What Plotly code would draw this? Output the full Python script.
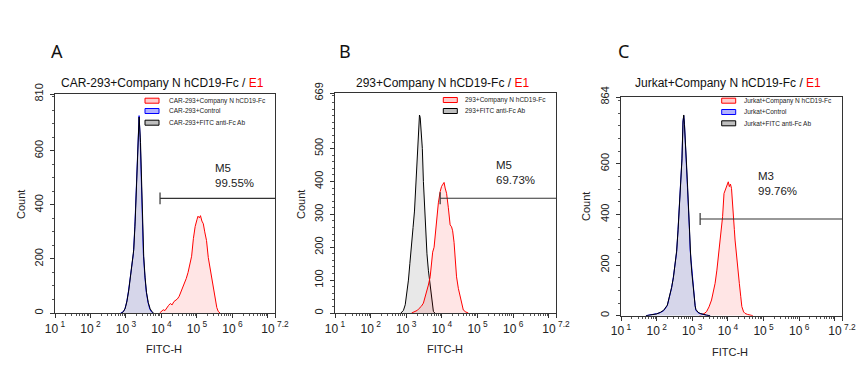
import plotly.graph_objects as go

# page has an 8px body margin: the figure fills the rest of the 866x388 window
PAGE_W, PAGE_H, OFF = 866, 388, 8
W, H = PAGE_W - 2 * OFF, PAGE_H - 2 * OFF

# ---------------- data (log10 FITC-H position, count) ----------------
# Panel A
a_red_log = [3.95, 4.0, 4.05, 4.1, 4.15, 4.2, 4.25, 4.3, 4.35, 4.4, 4.45, 4.5, 4.55, 4.6, 4.65, 4.7, 4.75, 4.8,
             4.85, 4.9, 4.95, 5.0, 5.03, 5.07, 5.1, 5.14, 5.18, 5.22, 5.27, 5.32, 5.37, 5.42, 5.47, 5.51, 5.56, 5.6, 5.65]
a_red_cnt = [0, 6, 12, 9, 20, 28, 35, 30, 42, 47, 52, 62, 78, 92, 110, 128, 150, 178,
             210, 275, 320, 345, 358, 352, 360, 340, 330, 300, 268, 205, 165, 130, 85, 48, 20, 6, 0]
a_blue_log = [2.85, 2.92, 2.97, 3.02, 3.07, 3.12, 3.17, 3.21, 3.25, 3.29, 3.33, 3.37, 3.4, 3.43, 3.46, 3.49,
              3.53, 3.57, 3.62, 3.67, 3.72, 3.76]
a_blue_cnt = [0, 4, 15, 40, 80, 130, 180, 220, 320, 470, 620, 730, 650, 500, 330, 220, 140, 80, 40, 15, 4, 0]
a_black_log = [2.87, 2.93, 2.98, 3.03, 3.08, 3.13, 3.18, 3.22, 3.26, 3.3, 3.34, 3.37, 3.41, 3.44, 3.47, 3.5,
               3.54, 3.58, 3.63, 3.68, 3.73, 3.78]
a_black_cnt = [0, 5, 18, 45, 85, 135, 185, 235, 340, 490, 640, 725, 630, 470, 310, 210, 130, 75, 38, 16, 5, 0]

# Panel B
b_red_log = [3.15, 3.2, 3.26, 3.31, 3.36, 3.42, 3.48, 3.53, 3.57, 3.62, 3.67, 3.71, 3.74, 3.78, 3.81, 3.85, 3.9,
             3.95, 3.99, 4.03, 4.06, 4.09, 4.13, 4.18, 4.23, 4.27, 4.3, 4.34, 4.37, 4.41, 4.46, 4.51, 4.56, 4.6, 4.67, 4.74]
b_red_cnt = [0, 2, 5, 8, 14, 20, 30, 48, 65, 85, 110, 150, 185, 200, 240, 293, 335,
             369, 385, 392, 397, 380, 364, 320, 268, 262, 250, 215, 175, 110, 75, 50, 25, 9, 3, 0]
b_black_log = [2.85, 2.92, 2.97, 3.02, 3.06, 3.1, 3.15, 3.19, 3.23, 3.27, 3.31, 3.34, 3.37, 3.39, 3.42, 3.45,
               3.48, 3.51, 3.55, 3.58, 3.62, 3.65, 3.69, 3.72, 3.76, 3.8]
b_black_cnt = [0, 8, 25, 60, 100, 150, 200, 260, 310, 400, 500, 565, 602, 595, 540, 500,
               400, 330, 250, 180, 130, 100, 55, 25, 5, 0]

# Panel C
c_red_log = [3.2, 3.26, 3.33, 3.4, 3.47, 3.54, 3.59, 3.64, 3.69, 3.73, 3.78, 3.82, 3.85, 3.89, 3.93, 3.97, 4.01,
             4.04, 4.07, 4.1, 4.12, 4.15, 4.18, 4.2, 4.24, 4.28, 4.32, 4.36, 4.39, 4.44, 4.48, 4.55, 4.62, 4.7]
c_red_cnt = [0, 3, 8, 16, 35, 62, 95, 128, 180, 233, 299, 350, 391, 483, 500, 515, 529,
             510, 520, 503, 450, 391, 340, 299, 233, 180, 128, 75, 36, 15, 9, 5, 3, 0]
c_blue_log = [1.7, 1.85, 2.0, 2.1, 2.2, 2.3, 2.37, 2.42, 2.47, 2.52, 2.56, 2.6, 2.64, 2.68, 2.71, 2.74, 2.76,
              2.78, 2.81, 2.84, 2.87, 2.89, 2.92, 2.94, 2.96, 2.99, 3.01, 3.03, 3.05, 3.08, 3.1, 3.16, 3.22, 3.3, 3.4, 3.5]
c_blue_cnt = [0, 3, 8, 12, 20, 40, 75, 110, 154, 200, 250, 340, 431, 530, 620, 770, 790,
              760, 680, 589, 500, 431, 340, 260, 225, 160, 128, 90, 62, 38, 22, 12, 8, 4, 2, 0]
c_black_log = [1.7, 1.85, 2.0, 2.1, 2.2, 2.3, 2.37, 2.42, 2.47, 2.52, 2.56, 2.6, 2.64, 2.68, 2.71, 2.74, 2.76,
               2.78, 2.81, 2.84, 2.87, 2.89, 2.92, 2.94, 2.96, 2.99, 3.01, 3.03, 3.05, 3.08, 3.1, 3.16, 3.22, 3.3, 3.4, 3.5]
c_black_cnt = [0, 2, 7, 13, 22, 42, 78, 112, 150, 205, 255, 335, 425, 525, 615, 765, 793,
               755, 690, 595, 505, 425, 335, 255, 220, 165, 130, 95, 65, 40, 25, 14, 9, 5, 2, 0]

# panel metadata
panel_letters = ["A", "B", "C"]
panel_titles = ["CAR-293+Company N hCD19-Fc", "293+Company N hCD19-Fc", "Jurkat+Company N hCD19-Fc"]
title_suffix = "E1"
y_max = [810, 669, 864]
y_major = [[0, 200, 400, 600, 810], [0, 100, 200, 300, 400, 500, 669], [0, 200, 400, 600, 864]]
y_minor_step = [50, 20, 50]
legend_labels = [
    ["CAR-293+Company N hCD19-Fc", "CAR-293+Control", "CAR-293+FITC anti-Fc Ab"],
    ["293+Company N hCD19-Fc", "293+FITC anti-Fc Ab"],
    ["Jurkat+Company N hCD19-Fc", "Jurkat+Control", "Jurkat+FITC anti-Fc Ab"],
]
x_tick_exp = [1, 2, 3, 4, 5, 6, 7, 7.2]
x_tick_text = ["10<sup> 1</sup>", "10<sup> 2</sup>", "10<sup> 3</sup>", "10<sup> 4</sup>",
               "10<sup> 5</sup>", "10<sup> 6</sup>", "", "10<sup> 7.2</sup>"]
gate_names = ["M5", "M5", "M3"]
gate_pct = ["99.55%", "69.73%", "99.76%"]
gate_start_log = [3.96, 3.95, 3.22]
gate_y = [424, 349, 382]
gate_label_log = [5.45, 5.46, 4.79]
gate_label_y = [507, 427, 524]

# ---------------- layout geometry (window pixels) ----------------
plot_px = [(55, 275, 94, 313), (335, 556, 93, 313), (621, 842, 97, 315.7)]
letter_px = [(56.5, 51), (344.5, 51), (623.5, 51)]
title_px = [(162.5, 83), (443, 83), (728, 83)]
legend_px = [(145, 167, [100.7, 111, 122.7]), (443.3, 463, [100, 111]), (721.7, 742, [100.7, 112, 123.3])]
count_px = [(21, 205), (301, 205), (586, 207)]
fitc_px = [(164, 349), (445, 349), (730, 352)]

FONT = "Liberation Sans, Arial, sans-serif"
RED, BLUE, BLACK = "#ff0000", "#0000ff", "#000000"


def px(x):
    return (x - OFF) / W


def py(y):
    return 1 - (y - OFF) / H


fig = go.Figure()


def to_lin(logs):
    return [10 ** v for v in logs]


series = [
    [  # A
        (a_red_log, a_red_cnt, RED, "rgba(255,0,0,0.10)"),
        (a_blue_log, a_blue_cnt, BLUE, "#d6d6ea"),
        (a_black_log, a_black_cnt, BLACK, None),
    ],
    [  # B
        (b_black_log, b_black_cnt, BLACK, "rgba(150,150,150,0.22)"),
        (b_red_log, b_red_cnt, RED, "rgba(255,0,0,0.10)"),
    ],
    [  # C
        (c_red_log, c_red_cnt, RED, "rgba(255,0,0,0.10)"),
        (c_blue_log, c_blue_cnt, BLUE, "#d6d6ea"),
        (c_black_log, c_black_cnt, BLACK, None),
    ],
]

annotations = []
shapes = []

for i in range(3):
    sfx = "" if i == 0 else str(i + 1)
    xr, yr = "x" + sfx, "y" + sfx
    for logs, cnts, col, fill in series[i]:
        fig.add_trace(go.Scatter(
            x=to_lin(logs), y=cnts, mode="lines", xaxis=xr, yaxis=yr,
            line=dict(color=col, width=1),
            fill="tozeroy" if fill else "none",
            fillcolor=fill if fill else None,
            showlegend=False, hoverinfo="skip"))
    # gate marker
    ym = y_max[i]
    half = 0.027 * ym
    gx0 = 10 ** gate_start_log[i]
    gx1 = 10 ** 7.2
    fig.add_trace(go.Scatter(x=[gx0, gx1], y=[gate_y[i], gate_y[i]], mode="lines", xaxis=xr, yaxis=yr,
                             line=dict(color="#333333", width=1.2), showlegend=False, hoverinfo="skip"))
    fig.add_trace(go.Scatter(x=[gx0, gx0], y=[gate_y[i] - half, gate_y[i] + half], mode="lines",
                             xaxis=xr, yaxis=yr, line=dict(color="#333333", width=1.2),
                             showlegend=False, hoverinfo="skip"))
    annotations.append(dict(x=gate_label_log[i], y=gate_label_y[i], xref=xr, yref=yr,
                            text=gate_names[i] + "<br>" + gate_pct[i], showarrow=False,
                            xanchor="left", yanchor="middle", align="left",
                            font=dict(family=FONT, size=11.5, color="#222")))

    x0, x1, y0, y1 = plot_px[i]
    minor_vals = [m * 10 ** d for d in range(1, 8) for m in range(2, 10) if m * 10 ** d <= 10 ** 7.2]
    fig.update_layout(**{
        "xaxis" + sfx: dict(
            domain=[px(x0), px(x1)], anchor=yr, type="log", range=[1, 7.2],
            tickmode="array", tickvals=[10 ** e for e in x_tick_exp], ticktext=x_tick_text,
            tickangle=0, automargin=False,
            ticks="outside", ticklen=4, tickcolor="#333", tickwidth=1,
            minor=dict(tickmode="array", tickvals=minor_vals, ticks="outside", ticklen=2,
                       tickcolor="#555", tickwidth=1, showgrid=False),
            showline=True, linecolor="#333", linewidth=1.2, mirror=True,
            showgrid=False, zeroline=False,
            tickfont=dict(family=FONT, size=12, color="#222")),
        "yaxis" + sfx: dict(
            domain=[py(y1), py(y0)], anchor=xr, range=[0, ym],
            tickmode="array", tickvals=y_major[i], ticktext=[str(v) for v in y_major[i]],
            tickangle=-90, automargin=False, ticklabelstandoff=3,
            ticks="outside", ticklen=4, tickcolor="#333", tickwidth=1,
            minor=dict(dtick=y_minor_step[i], tick0=0, ticks="outside", ticklen=2,
                       tickcolor="#555", tickwidth=1, showgrid=False),
            showline=True, linecolor="#333", linewidth=1.2, mirror=True,
            showgrid=False, zeroline=False,
            tickfont=dict(family=FONT, size=11, color="#222")),
    })

    # panel letter
    lx, ly = letter_px[i]
    annotations.append(dict(x=px(lx), y=py(ly), xref="paper", yref="paper", text=panel_letters[i],
                            showarrow=False, xanchor="center", yanchor="middle",
                            font=dict(family="Noto Sans, Open Sans, sans-serif", size=18, color="#111")))
    # title
    tx, ty = title_px[i]
    annotations.append(dict(x=px(tx), y=py(ty), xref="paper", yref="paper",
                            text=panel_titles[i] + " / <span style='color:#ff0000'>" + title_suffix + "</span>",
                            showarrow=False, xanchor="center", yanchor="middle",
                            font=dict(family=FONT, size=12, color="#111")))
    # axis titles
    cx, cy = count_px[i]
    annotations.append(dict(x=px(cx), y=py(cy), xref="paper", yref="paper", text="Count", textangle=-90,
                            showarrow=False, xanchor="center", yanchor="middle",
                            font=dict(family=FONT, size=11, color="#222")))
    fx, fy = fitc_px[i]
    annotations.append(dict(x=px(fx), y=py(fy), xref="paper", yref="paper", text="FITC-H",
                            showarrow=False, xanchor="center", yanchor="middle",
                            font=dict(family=FONT, size=11, color="#222")))
    # legend (drawn)
    rx, txx, rows = legend_px[i]
    labels = legend_labels[i]
    if len(labels) == 3:
        sty = [(RED, "rgba(255,0,0,0.2)"), (BLUE, "rgba(0,0,255,0.3)"), (BLACK, "rgba(0,0,0,0.25)")]
    else:
        sty = [(RED, "rgba(255,0,0,0.2)"), (BLACK, "rgba(0,0,0,0.25)")]
    for (lc, lf), lab, ry in zip(sty, labels, rows):
        shapes.append(dict(type="rect", xref="paper", yref="paper",
                           x0=px(rx), x1=px(rx + 14), y0=py(ry + 2.5), y1=py(ry - 2.5),
                           line=dict(color=lc, width=1), fillcolor=lf))
        annotations.append(dict(x=px(txx), y=py(ry), xref="paper", yref="paper", text=lab,
                                showarrow=False, xanchor="left", yanchor="middle",
                                font=dict(family=FONT, size=6.5, color="#222")))

fig.update_layout(width=W, height=H, margin=dict(l=0, r=0, t=0, b=0, autoexpand=False),
                  paper_bgcolor="white", plot_bgcolor="white",
                  annotations=annotations, shapes=shapes, showlegend=False)

fig.write_html("out.html")
